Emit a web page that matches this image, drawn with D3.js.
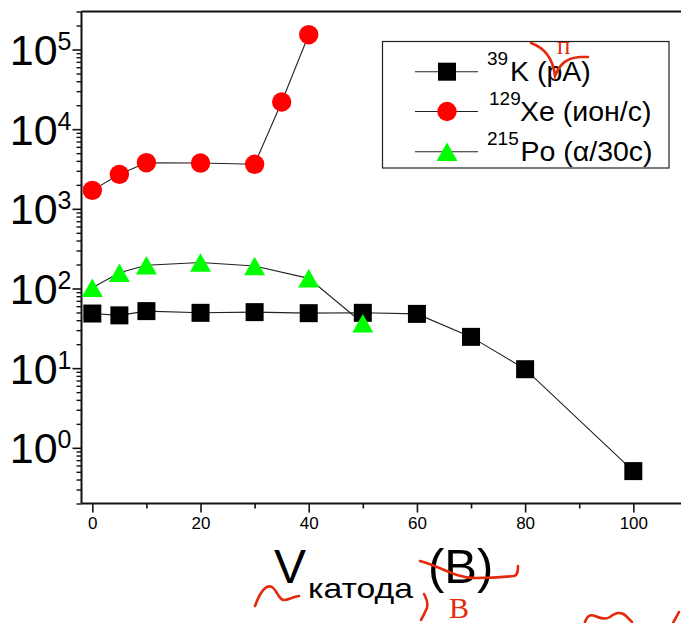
<!DOCTYPE html>
<html>
<head>
<meta charset="utf-8">
<script src="https://cdn.jsdelivr.net/npm/d3@7"></script>
<style>
  html, body { margin: 0; padding: 0; background: #fff; }
  svg { display: block; font-family: "Liberation Sans", Arial, sans-serif; }
</style>
</head>
<body>
<svg id="chart" width="681" height="623"></svg>
<script>
// ---- data ----
const voltsK  = [0, 5, 10, 20, 30, 40, 50, 60, 70, 80, 100];
const valuesK = [48.5, 46, 52, 49.5, 50.5, 49, 49.5, 48, 24.7, 9.7, 0.51];

const voltsXe  = [0, 5, 10, 20, 30, 35, 40];
const valuesXe = [1706, 2711, 3793, 3758, 3622, 21930, 153500];

const voltsPo  = [0, 5, 10, 20, 30, 40, 50];
const valuesPo = [102, 158, 196, 212, 192, 134, 36.6];

const xMajorTicks = [0, 20, 40, 60, 80, 100];
const xMinorTicks = [10, 30, 50, 70, 90, 110];
const yExponents  = [0, 1, 2, 3, 4, 5];

const legendSup   = ["39", "129", "215"];
const legendText  = ["K (pA)", "Xe (ион/с)", "Po (α/30c)"];

(function () {
// ---- layout ----
const svg = d3.select("#chart");
const mLeft = 81.5, mTop = 11.5, mBottom = 503.5;
const W = 681;
const x = d3.scaleLinear().domain([-2, 112]).range([mLeft, mLeft + 114 * 5.41]);
const y = d3.scaleLog().domain([0.2, 3e5]).range([mBottom, mTop]);

// axes
svg.append("g").attr("transform", `translate(0,${mBottom})`)
  .call(d3.axisBottom(x).tickValues(xMajorTicks).tickSize(9).tickSizeOuter(0).tickPadding(4))
  .call(g => g.select(".domain").remove())
  .call(g => g.selectAll("line").attr("stroke", "#111").attr("stroke-width", 1.6))
  .call(g => g.selectAll("text").attr("font-size", 17).attr("fill", "#000")
        .attr("font-family", "Liberation Sans, Arial, sans-serif"));
svg.append("g").attr("transform", `translate(0,${mBottom})`)
  .call(d3.axisBottom(x).tickValues(xMinorTicks).tickSize(5).tickFormat(""))
  .call(g => g.select(".domain").remove())
  .call(g => g.selectAll("line").attr("stroke", "#111").attr("stroke-width", 1.6));

const yMinor = [];
for (let d = -1; d <= 5; d++) for (let k = 2; k <= 9; k++) {
  const v = k * Math.pow(10, d);
  if (v >= 0.2 && v <= 3e5) yMinor.push(v);
}
svg.append("g").attr("transform", `translate(${mLeft},0)`)
  .call(d3.axisLeft(y).tickValues(yMinor).tickSize(5).tickFormat(""))
  .call(g => g.select(".domain").remove())
  .call(g => g.selectAll("line").attr("stroke", "#111").attr("stroke-width", 1.4));
const gy = svg.append("g").attr("transform", `translate(${mLeft},0)`)
  .call(d3.axisLeft(y).tickValues(yExponents.map(e => Math.pow(10, e))).tickSize(9).tickFormat(""))
  .call(g => g.select(".domain").remove())
  .call(g => g.selectAll("line").attr("stroke", "#111").attr("stroke-width", 1.6));
gy.selectAll(".tick").each(function (d, i) {
  const t = d3.select(this).append("text")
    .attr("x", -10).attr("y", 15).attr("text-anchor", "end").attr("fill", "#000")
    .attr("font-family", "Liberation Sans, Arial, sans-serif");
  t.append("tspan").attr("font-size", 43).text("10");
  t.append("tspan").attr("font-size", 25).attr("dy", -15).text(String(yExponents[i]));
});

// frame lines
svg.append("line").attr("x1", mLeft).attr("x2", W).attr("y1", mBottom).attr("y2", mBottom)
  .attr("stroke", "#111").attr("stroke-width", 2.2);
svg.append("line").attr("x1", mLeft).attr("x2", W).attr("y1", mTop).attr("y2", mTop)
  .attr("stroke", "#111").attr("stroke-width", 2);
svg.append("line").attr("x1", mLeft).attr("x2", mLeft).attr("y1", mTop).attr("y2", mBottom)
  .attr("stroke", "#111").attr("stroke-width", 2);

// series
const line = d3.line().x(d => x(d[0])).y(d => y(d[1]));
const zip = (a, b) => a.map((v, i) => [v, b[i]]);
const dataK = zip(voltsK, valuesK), dataXe = zip(voltsXe, valuesXe), dataPo = zip(voltsPo, valuesPo);

const SQ = 18, R = 9.7, TW = 21, TH = 18.5;
const triPath = (cx, cy) => `M${cx},${cy - TH / 2}L${cx + TW / 2},${cy + TH / 2}L${cx - TW / 2},${cy + TH / 2}Z`;

function drawLine(data) {
  svg.append("path").datum(data).attr("d", line).attr("fill", "none")
    .attr("stroke", "#222").attr("stroke-width", 1.1);
}
drawLine(dataXe); drawLine(dataK); drawLine(dataPo);

svg.append("g").selectAll("circle").data(dataXe).join("circle")
  .attr("cx", d => x(d[0])).attr("cy", d => y(d[1])).attr("r", R).attr("fill", "#ff0000");
svg.append("g").selectAll("rect").data(dataK).join("rect")
  .attr("x", d => x(d[0]) - SQ / 2).attr("y", d => y(d[1]) - SQ / 2)
  .attr("width", SQ).attr("height", SQ).attr("fill", "#000");
svg.append("g").selectAll("path").data(dataPo).join("path")
  .attr("d", d => triPath(x(d[0]), y(d[1]))).attr("fill", "#00ff00");

// legend
const lg = svg.append("g");
lg.append("rect").attr("x", 382.5).attr("y", 41.5).attr("width", 286.5).attr("height", 126.5)
  .attr("fill", "#fff").attr("stroke", "#222").attr("stroke-width", 1.2);
const rowsY = [71.7, 111.5, 151.7];
const supX = [487, 489, 487];
const txtX = [510, 520, 520.5];
rowsY.forEach((ry, i) => {
  lg.append("line").attr("x1", 415).attr("x2", 478).attr("y1", ry).attr("y2", ry)
    .attr("stroke", "#222").attr("stroke-width", 1.1);
  if (i === 0) lg.append("rect").attr("x", 447 - SQ / 2).attr("y", ry - SQ / 2).attr("width", SQ).attr("height", SQ).attr("fill", "#000");
  if (i === 1) lg.append("circle").attr("cx", 447).attr("cy", ry).attr("r", R).attr("fill", "#ff0000");
  if (i === 2) lg.append("path").attr("d", triPath(447, ry)).attr("fill", "#00ff00");
  lg.append("text").attr("x", supX[i]).attr("y", ry - 6.5).attr("font-size", 19).text(legendSup[i]);
  lg.append("text").attr("x", txtX[i]).attr("y", ry + 9.5).attr("font-size", 28.5).text(legendText[i]);
});

// x axis title
const xt = svg.append("g");
xt.append("text").attr("x", 274).attr("y", 583).attr("font-size", 48).text("V");
xt.append("text").attr("x", 308).attr("y", 598).attr("font-size", 28)
  .attr("textLength", 105).attr("lengthAdjust", "spacingAndGlyphs").text("катода");
xt.append("text").attr("x", 428).attr("y", 583).attr("font-size", 49).text("(В)");

// red hand-written corrections
const red = "#e42a0c";
const ann = svg.append("g").attr("fill", "none").attr("stroke", red).attr("stroke-width", 2.6)
  .attr("stroke-linecap", "round");
ann.append("path").attr("d", "M531,43 C545,48 553,58 555,76 C560,64 566,58 580,57 L588,57");
ann.append("path").attr("d", "M255,606 C260,592 266,584 272,587 C277,590 279,601 285,600 C290,599 293,597 299,596");
ann.append("path").attr("d", "M424,594 L425,596 C428,602 428,608 425,612 C424,615 422,618 421,620");
ann.append("path").attr("d", "M420,561 C440,566 455,578 475,578 C490,578 505,577 514,576 C518,575 518,570 518,566");
ann.append("path").attr("d", "M585,622 C587,616 590,614 595,616 C600,618 605,620 610,617 C616,612 622,612 626,616 C628,618 630,620 632,622");
ann.append("path").attr("d", "M679,612 C677,616 675,619 673,623");
svg.append("text").attr("x", 557).attr("y", 54).attr("font-size", 25).attr("fill", red)
  .attr("font-family", "Liberation Serif, Times New Roman, serif").text("п");
svg.append("text").attr("x", 449).attr("y", 618).attr("font-size", 30).attr("fill", red)
  .attr("font-family", "Liberation Serif, Times New Roman, serif").text("В");
})();
</script>
</body>
</html>
